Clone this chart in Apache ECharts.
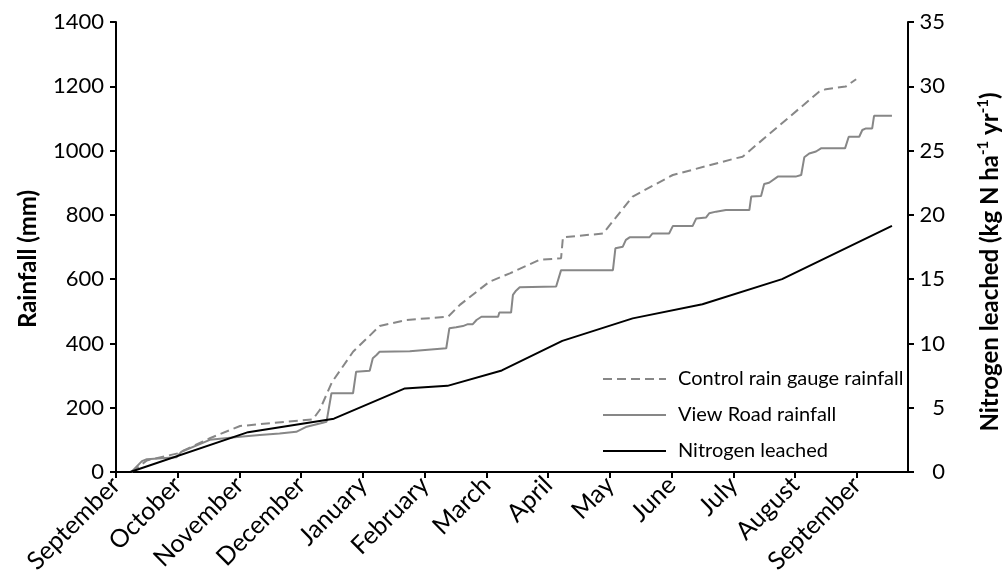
<!DOCTYPE html>
<html>
<head>
<meta charset="utf-8">
<script src="https://cdn.jsdelivr.net/npm/echarts@6/dist/echarts.min.js"></script>
<style>
  html, body { margin: 0; padding: 0; background: #fff; }
  #chart { width: 1003px; height: 580px; }
</style>
</head>
<body>
<div id="chart"></div>
<script>
// Month tick labels (x is measured in months from the start of September)
const monthLabels = ['September', 'October', 'November', 'December', 'January', 'February',
  'March', 'April', 'May', 'June', 'July', 'August', 'September'];

// Cumulative rainfall at the control rain gauge (mm): [month, mm]
const controlRain = [
  [0.25, 0], [0.50, 36], [1.00, 58], [1.52, 105], [2.01, 143], [3.19, 164], [3.30, 193],
  [3.50, 280], [3.84, 374], [4.27, 454], [4.70, 473], [5.38, 483], [5.57, 520], [6.05, 592],
  [6.38, 618], [6.86, 660], [7.21, 665], [7.24, 730], [7.89, 742], [8.37, 857], [9.02, 924],
  [10.04, 976], [10.15, 981], [11.39, 1183], [11.50, 1191], [11.82, 1199], [11.99, 1222]
];

// Cumulative rainfall at View Road (mm): [month, mm]
const viewRoadRain = [
  [0.25, 0], [0.42, 34], [0.50, 40], [0.98, 46], [1.06, 63], [1.52, 100], [2.01, 110],
  [2.33, 115], [2.65, 120], [2.92, 125], [3.09, 141], [3.35, 153], [3.41, 156], [3.49, 245],
  [3.84, 245], [3.89, 312], [4.11, 315], [4.16, 354], [4.22, 364], [4.27, 374], [4.76, 376],
  [4.78, 382], [5.35, 385], [5.40, 447], [5.51, 450], [5.62, 454], [5.70, 460], [5.78, 460],
  [5.84, 473], [5.92, 483], [6.19, 483], [6.21, 496], [6.40, 496], [6.43, 551], [6.48, 564],
  [6.54, 575], [7.13, 577], [7.21, 628], [8.05, 628], [8.09, 696], [8.21, 701], [8.26, 722],
  [8.32, 730], [8.64, 730], [8.69, 742], [8.96, 742], [9.02, 765], [9.34, 765], [9.40, 789],
  [9.56, 792], [9.61, 805], [9.72, 810], [9.88, 815], [10.26, 815], [10.29, 857], [10.45, 859],
  [10.50, 896], [10.58, 900], [10.72, 919], [11.01, 919], [11.10, 924], [11.15, 979],
  [11.23, 991], [11.34, 997], [11.42, 1007], [11.81, 1007], [11.87, 1043], [12.04, 1043],
  [12.09, 1064], [12.15, 1069], [12.25, 1069], [12.28, 1108], [12.57, 1108]
];

// Cumulative nitrogen leached (kg N/ha/yr): [month, kg]
const nitrogenLeached = [
  [0.23, 0], [2.14, 3.1], [3.53, 4.15], [4.68, 6.5], [5.37, 6.7], [6.25, 7.9], [7.23, 10.2],
  [8.37, 11.95], [9.50, 13.05], [10.79, 15.0], [12.57, 19.15]
];

// Axis tick values
const rainTicks = { min: 0, max: 1400, interval: 200 };
const nitrogenTicks = { min: 0, max: 35, interval: 5 };
const monthTickValues = [0, 1, 2, 3, 4, 5, 6, 7, 8, 9, 10, 11, 12];
const monthAxisEnd = 12.83;

const FONT = 'Lato';
const GREY = '#878787';

const chart = echarts.init(document.getElementById('chart'), null, { renderer: 'canvas' });

chart.setOption({
  animation: false,
  backgroundColor: '#fff',
  textStyle: { fontFamily: FONT },
  grid: { left: 116, right: 95, top: 22, bottom: 108, containLabel: false, outerBoundsMode: 'none' },
  legend: {
    orient: 'vertical',
    left: 597,
    top: 363,
    itemWidth: 63,
    itemHeight: 14,
    itemGap: 14,
    itemStyle: { opacity: 0 },
    textStyle: { fontFamily: FONT, fontSize: 20, color: '#000', lineHeight: 22, padding: [0, 0, 0, 7] },
    data: ['Control rain gauge rainfall', 'View Road rainfall', 'Nitrogen leached']
  },
  xAxis: {
    type: 'value',
    min: 0,
    max: monthAxisEnd,
    interval: 1,
    splitLine: { show: false },
    axisLine: { onZero: false, lineStyle: { color: '#000', width: 2 } },
    axisTick: { show: true, length: 6, lineStyle: { color: '#000', width: 2 }, customValues: monthTickValues },
    axisLabel: {
      rotate: 45,
      margin: 9,
      fontFamily: FONT,
      fontSize: 25,
      color: '#000',
      customValues: monthTickValues,
      formatter: v => (Number.isInteger(v) && monthLabels[v]) ? monthLabels[v] : ''
    }
  },
  yAxis: [
    {
      type: 'value',
      position: 'left',
      min: rainTicks.min, max: rainTicks.max, interval: rainTicks.interval,
      name: 'Rainfall (mm)',
      nameLocation: 'middle',
      nameRotate: 90,
      nameGap: 76,
      nameTextStyle: { fontFamily: FONT, fontSize: 24, fontWeight: 'bold', color: '#000', padding: [0, 24, 0, 0] },
      splitLine: { show: false },
      axisLine: { show: true, lineStyle: { color: '#000', width: 2 } },
      axisTick: { show: true, length: 6, lineStyle: { color: '#000', width: 2 } },
      axisLabel: { margin: 12, fontFamily: FONT, fontSize: 22, color: '#000', formatter: v => String(v) }
    },
    {
      type: 'value',
      position: 'right',
      min: nitrogenTicks.min, max: nitrogenTicks.max, interval: nitrogenTicks.interval,
      name: 'Nitrogen leached (kg N ha{sup|-1} yr{sup|-1})',
      nameLocation: 'middle',
      nameRotate: 90,
      nameGap: 68,
      nameTextStyle: {
        fontFamily: FONT, fontSize: 24, fontWeight: 'bold', color: '#000', lineHeight: 28,
        padding: [0, 30, 0, 0],
        rich: { sup: { fontFamily: FONT, fontSize: 15, fontWeight: 'bold', color: '#000', verticalAlign: 'top', lineHeight: 16 } }
      },
      splitLine: { show: false },
      axisLine: { show: true, lineStyle: { color: '#000', width: 2 } },
      axisTick: { show: true, length: 6, lineStyle: { color: '#000', width: 2 } },
      axisLabel: { margin: 37, align: 'right', fontFamily: FONT, fontSize: 22, color: '#000' }
    }
  ],
  series: [
    {
      name: 'Control rain gauge rainfall',
      type: 'line',
      yAxisIndex: 0,
      data: controlRain,
      symbol: 'none',
      lineStyle: { color: GREY, width: 2, type: [9, 5] },
      itemStyle: { color: GREY }
    },
    {
      name: 'View Road rainfall',
      type: 'line',
      yAxisIndex: 0,
      data: viewRoadRain,
      symbol: 'none',
      lineStyle: { color: GREY, width: 2 },
      itemStyle: { color: GREY }
    },
    {
      name: 'Nitrogen leached',
      type: 'line',
      yAxisIndex: 1,
      data: nitrogenLeached,
      symbol: 'none',
      lineStyle: { color: '#000', width: 2 },
      itemStyle: { color: '#000' }
    }
  ]
});
</script>
</body>
</html>
